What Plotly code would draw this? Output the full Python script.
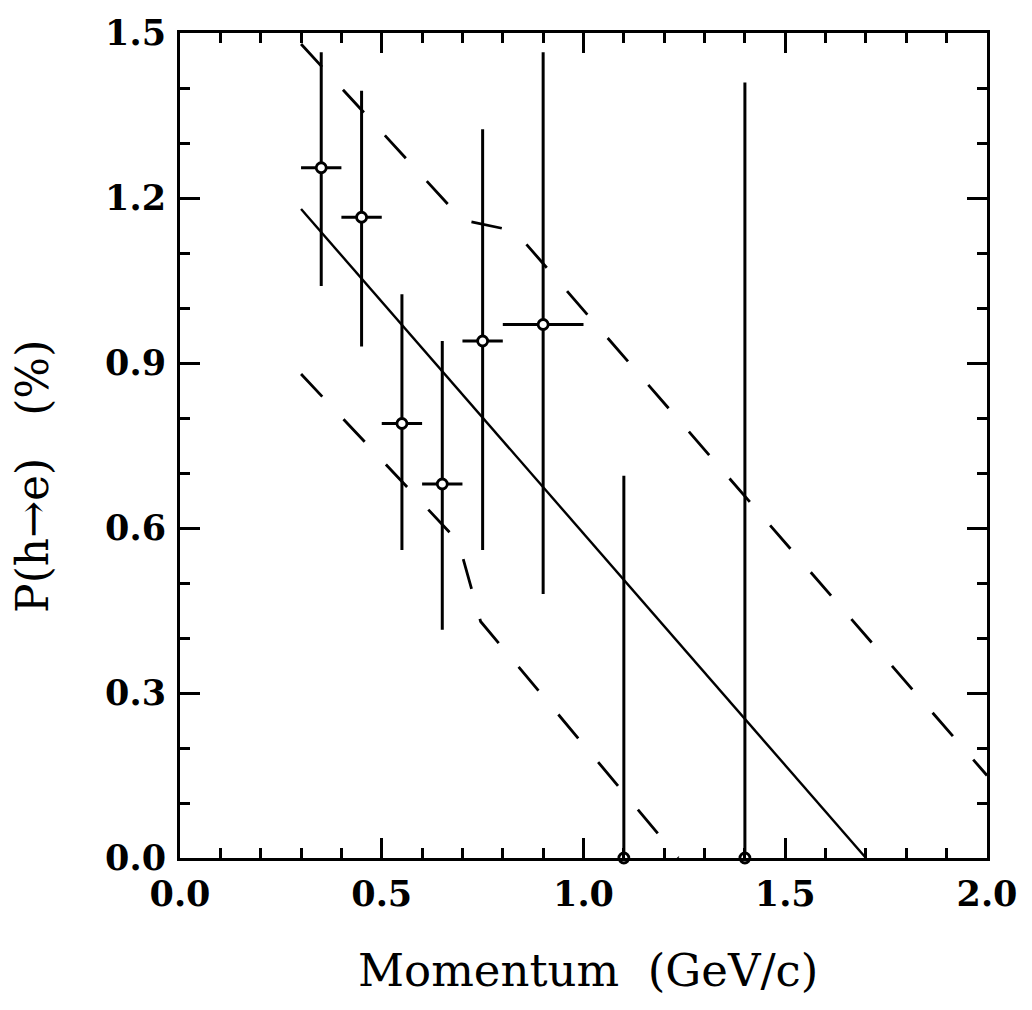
import plotly.graph_objects as go

# Data points (momentum bins)
momentum = [0.35, 0.45, 0.55, 0.65, 0.75, 0.90, 1.10, 1.40]
momentum_halfwidth = [0.05, 0.05, 0.05, 0.05, 0.05, 0.10, 0.0, 0.0]
prob = [1.255, 1.165, 0.79, 0.68, 0.94, 0.97, 0.0, 0.0]
prob_err_up = [0.21, 0.23, 0.235, 0.26, 0.385, 0.495, 0.695, 1.41]
prob_err_down = [0.215, 0.235, 0.23, 0.265, 0.38, 0.49, 0.0, 0.0]

# Fit line and band
fit_x = [0.30, 1.70]
fit_y = [1.18, 0.0]
upper_x = [0.30, 0.70, 0.83, 2.0]
upper_y = [1.48, 1.16, 1.14, 0.15]
lower_x = [0.30, 0.69, 0.745, 1.235]
lower_y = [0.88, 0.575, 0.43, 0.0]

x_tickvals = [0.0, 0.5, 1.0, 1.5, 2.0]
x_ticktext = ["0.0", "0.5", "1.0", "1.5", "2.0"]
y_tickvals = [0.0, 0.3, 0.6, 0.9, 1.2, 1.5]
y_ticktext = ["0.0", "0.3", "0.6", "0.9", "1.2", "1.5"]

fig = go.Figure()

fig.add_trace(go.Scatter(x=fit_x, y=fit_y, mode="lines",
                         line=dict(color="black", width=2.4), showlegend=False))
fig.add_trace(go.Scatter(x=upper_x, y=upper_y, mode="lines",
                         line=dict(color="black", width=2.8, dash="31px,31px"),
                         showlegend=False))
fig.add_trace(go.Scatter(x=lower_x, y=lower_y, mode="lines",
                         line=dict(color="black", width=2.8, dash="31px,31px"),
                         showlegend=False))

fig.add_trace(go.Scatter(
    x=momentum, y=prob, mode="markers",
    marker=dict(symbol="circle", size=10, color="white",
                line=dict(color="black", width=2.8)),
    error_y=dict(type="data", symmetric=False, array=prob_err_up,
                 arrayminus=prob_err_down, color="black", thickness=3, width=0),
    error_x=dict(type="data", array=momentum_halfwidth, color="black",
                 thickness=3, width=0),
    cliponaxis=False, showlegend=False))

tick_font = dict(family="DejaVu Serif", size=35, color="black", weight="bold")

fig.update_xaxes(range=[0, 2], tickvals=x_tickvals, ticktext=x_ticktext,
                 ticks="inside", ticklen=20, tickwidth=2.5, tickcolor="black",
                 minor=dict(dtick=0.1, ticks="inside", ticklen=10, tickwidth=2.5,
                            tickcolor="black"),
                 showline=True, linewidth=3, linecolor="black", mirror="ticks",
                 showgrid=False, zeroline=False, tickfont=tick_font,
                 ticklabelstandoff=3)
fig.update_yaxes(range=[0, 1.5], tickvals=y_tickvals, ticktext=y_ticktext,
                 ticks="inside", ticklen=20, tickwidth=2.5, tickcolor="black",
                 minor=dict(dtick=0.1, ticks="inside", ticklen=10, tickwidth=2.5,
                            tickcolor="black"),
                 showline=True, linewidth=3, linecolor="black", mirror="ticks",
                 showgrid=False, zeroline=False, tickfont=tick_font,
                 ticklabelstandoff=4)

title_font = dict(family="DejaVu Serif", size=45, color="black")
fig.add_annotation(text="Momentum  (GeV/c)", xref="paper", yref="paper",
                   x=0.506, y=-0.136, xanchor="center", yanchor="middle",
                   showarrow=False, font=title_font)
fig.add_annotation(text="P(h→e)   (%)", xref="paper", yref="paper",
                   x=-0.182, y=0.462, xanchor="center", yanchor="middle",
                   textangle=-90, showarrow=False,
                   font=dict(family="DejaVu Serif", size=44, color="black"))

fig.update_layout(width=1032, height=1010,
                  margin=dict(l=180, r=45, t=22, b=152),
                  paper_bgcolor="white", plot_bgcolor="white")

fig.write_html("out.html")
